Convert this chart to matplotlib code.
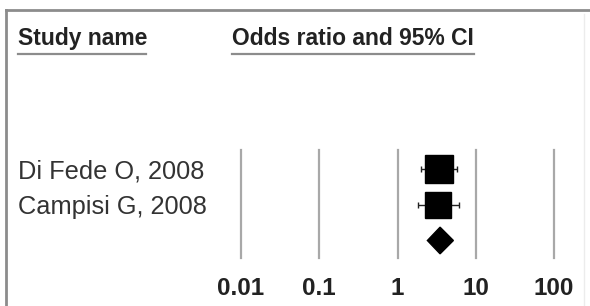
import numpy as np
import matplotlib
matplotlib.use("Agg")
import matplotlib.pyplot as plt
import matplotlib.transforms as mtransforms

# data
studies = ["Di Fede O, 2008", "Campisi G, 2008"]
odds = [3.38, 3.33]
ci_low = [2.02, 1.85]
ci_high = [5.82, 6.17]
weights = [55.4, 44.6]
pooled_or = 3.5
pooled_low = 2.41
pooled_high = 5.18
ticks = [0.01, 0.1, 1, 10, 100]
tick_labels = ["0.01", "0.1", "1", "10", "100"]

plt.rcParams['font.family'] = ['Liberation Sans', 'DejaVu Sans']

W, H = 590, 306
fig = plt.figure(figsize=(W / 100, H / 100), dpi=100)

def fx(px):
    return px / W

def fy(py):
    return 1 - py / H

def fig_line(xs, ys, color, lw):
    fig.lines.append(plt.Line2D([fx(x) for x in xs], [fy(y) for y in ys],
                                transform=fig.transFigure, color=color, lw=lw))

# outer frame: top and left only, faint right edge
fig_line([6, 590], [10, 10], "#8c8c8c", 2)
fig_line([6, 6], [10, 306], "#8c8c8c", 2)
fig_line([584, 584], [14, 306], "#ececec", 1)

# headers
fig.text(fx(18), fy(45), "Study name", fontsize=16.5, fontweight="bold",
         color="#222222", va="baseline")
fig.text(fx(232), fy(45), "Odds ratio and 95% CI", fontsize=16.5,
         fontweight="bold", color="#222222", va="baseline")
fig_line([18, 146], [54, 54], "#8c8c8c", 1.6)
fig_line([232, 474], [54, 54], "#8c8c8c", 1.6)

# forest area
ax = fig.add_axes([fx(241), fy(258), fx(554) - fx(241), fy(150) - fy(258)])
ax.set_xscale("log")
ax.set_xlim(0.01, 100)
ax.set_ylim(2.486, -0.514)
ax.axis("off")

for t in ticks:
    ax.axvline(t, color="#a8a8a8", lw=1.6, clip_on=False, zorder=1)

rows = np.arange(len(studies))
err = [np.array(odds) - np.array(ci_low), np.array(ci_high) - np.array(odds)]
ax.errorbar(odds, rows, xerr=err, fmt="none", ecolor="#222222", elinewidth=1,
            capsize=2, capthick=1, zorder=2)
for i in range(len(studies)):
    ax.plot(odds[i], rows[i], marker="s", color="black",
            markersize=2.8 * np.sqrt(weights[i]), zorder=3, clip_on=False)

# pooled diamond
yd = len(studies)
dx = [pooled_low, pooled_or, pooled_high, pooled_or]
dy = [yd, yd - 0.37, yd, yd + 0.37]
ax.fill(dx, dy, color="black", zorder=3, clip_on=False)

# study labels
trans = mtransforms.blended_transform_factory(fig.transFigure, ax.transData)
for i, name in enumerate(studies):
    ax.text(fx(18), rows[i], name, transform=trans, fontsize=18.3,
            color="#333333", va="center_baseline", ha="left")

# tick labels
trans2 = mtransforms.blended_transform_factory(ax.transData, fig.transFigure)
for t, lab in zip(ticks, tick_labels):
    ax.text(t, fy(286), lab, transform=trans2, fontsize=17.5, fontweight="bold",
            color="#222222", ha="center", va="center_baseline")

fig.savefig("out.png", dpi=100)
